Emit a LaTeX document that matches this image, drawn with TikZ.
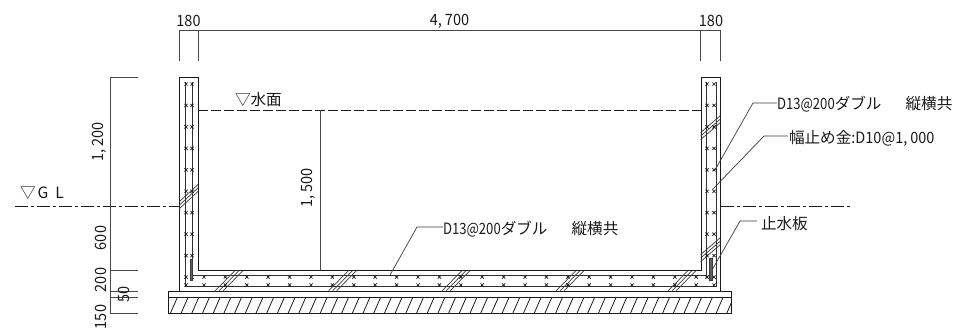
\documentclass[tikz,border=0pt]{standalone}
\usepackage{fontspec}
\setmainfont{Noto Sans CJK JP}
\newfontfamily\hwfont[FakeStretch=0.84]{Noto Sans CJK JP}
\newfontfamily\nmfont[FakeStretch=0.93]{Noto Sans CJK JP}
\newcommand{\hw}[1]{{\hwfont #1}}
\newcommand{\nm}[1]{{\nmfont #1}}
\definecolor{ink}{HTML}{1A1A1A}
\tikzset{
  x=1bp,y=-1bp,
  >=stealth,
  main/.style={draw=ink,line width=0.95bp},
  thin line/.style={draw=ink,line width=0.8bp},
  rebar/.style={draw=ink!90,line width=0.75bp},
  dimline/.style={draw=ink!80,line width=0.75bp},
  leader/.style={draw=ink!85,line width=0.7bp},
  water/.style={draw=ink,line width=0.75bp,dash pattern=on 10bp off 3bp},
  center line/.style={draw=ink,line width=0.75bp,dash pattern=on 13bp off 3bp on 3bp off 3bp},
  label/.style={inner sep=0pt,outer sep=0pt,text=ink,font=\fontsize{15.6bp}{16bp}\selectfont,anchor=west},
  dimtext/.style={inner sep=0pt,outer sep=0pt,text=ink,font=\fontsize{15.6bp}{16bp}\selectfont},
  breakline/.style={draw=ink!85,line width=0.7bp},
  stopbar/.style={fill=ink!70,draw=ink!85,line width=0.4bp},
}
\newcommand{\xmark}[2]{\draw[ink,line width=0.7bp] (#1-1.6,#2-1.6) -- (#1+1.6,#2+1.6) (#1-1.6,#2+1.6) -- (#1+1.6,#2-1.6);}
\begin{document}
\begin{tikzpicture}
\useasboundingbox (0,0) rectangle (955,329);
% rebar
\draw[rebar] (185,82) -- (185,286.5) -- (716,286.5) -- (716,82);
\draw[rebar] (192.5,82) -- (192.5,275) -- (706.5,275) -- (706.5,82);
% concrete
\draw[main] (179,291) -- (179,77) -- (198,77) -- (198,270) -- (701,270) -- (701,77) -- (720.5,77) -- (720.5,291);
\draw[main] (168,291) rectangle (731.5,313);
\draw[main] (168,297) -- (731.5,297);
% hatching
\begin{scope}
\clip (168,297) rectangle (731.5,313);
\foreach \i in {0,...,52} \draw[thin line] ({170.5+\i*10.7},313) -- ({177.5+\i*10.7},297);
\end{scope}
% break lines in the slab
\foreach \c in {229,342.5,456,570,682}{
  \foreach \d in {-4,0,4} \draw[breakline] ({\c+\d-10},291) -- ({\c+\d+10},270.5);
}
% break lines in the walls
\foreach \d in {-3.5,0,3.5}{
  \draw[breakline] (179,205.5+\d) -- (198.5,187.5+\d);
  \draw[breakline] (700.7,136+\d) -- (720.5,119+\d);
  \draw[breakline] (700.7,258+\d) -- (720.5,241+\d);
}
% bar marks
\foreach \i in {0,...,9} {\xmark{186}{84+\i*21.45}\xmark{192}{84+\i*21.45}}
\foreach \i in {0,...,9} {\xmark{707}{84+\i*21.45}\xmark{714}{84+\i*21.45}}
\foreach \i in {0,...,23} {\xmark{204+\i*21.4}{277}\xmark{204+\i*21.4}{285}}
\xmark{186}{285}\xmark{714}{285}\xmark{707}{277}
% water stops
\draw[stopbar] (190,259) rectangle (192.5,280);
\draw[stopbar] (709,258) rectangle (712,280);
% top dimensions
\coordinate (ta) at (179,30); \coordinate (tb) at (198.5,30);
\coordinate (tc) at (700.7,30); \coordinate (td) at (720.5,30);
\draw[dimline] (ta) -- (td);
\foreach \p in {ta,tb,tc,td} \draw[dimline] (\p) -- ++(0,31);
\node[dimtext] (d180a) at (188.5,21) {\nm{180}};
\node[dimtext] (d4700) at (449.5,21) {\nm{4,\kern3bp 700}};
\node[dimtext] (d180b) at (711,21) {\nm{180}};
% left dimensions
\coordinate (la) at (110,77); \coordinate (lf) at (110,313);
\draw[dimline] (la) -- (lf);
\foreach \yy in {77,270,291,297,313} \draw[dimline] (110,\yy) -- (138,\yy);
\node[dimtext,rotate=90] (d1200) at (99.5,142) {\nm{1,\kern3bp 200}};
\node[dimtext,rotate=90] (d600) at (100.5,238) {\nm{600}};
\node[dimtext,rotate=90] (d200) at (100.5,280) {\nm{200}};
\node[dimtext,rotate=90] (d50) at (123.5,294) {\nm{50}};
\node[dimtext,rotate=90] (d150) at (100.5,317) {\nm{150}};
% levels
\draw[center line] (15,206) -- (179,206);
\draw[center line] (720.5,206) -- (852,206);
\draw[water] (198,110) -- (701,110);
\node[label] (gl) at (20,193) {▽\kern2bp G\kern7bp L};
\node[label] (wl) at (235,100) {▽水面};
% water depth
\coordinate (wa) at (320,110); \coordinate (wb) at (320,270);
\draw[dimline] (wa) -- (wb);
\node[dimtext,rotate=90] (d1500) at (308.5,188) {\nm{1,\kern3bp 500}};
% labels and leaders
\node[label] (la1) at (777,104) {\hw{D13@200}ダブル\hspace{24bp}縦横共};
\node[label] (la2) at (789,138) {幅止め金\nm{:D10@1,\kern3bp 000}};
\node[label] (la3) at (761,224) {止水板};
\node[label] (la4) at (443,229) {\hw{D13@200}ダブル\hspace{24bp}縦横共};
\coordinate (s1) at (715,170); \coordinate (b1) at (753,103);
\coordinate (s2) at (712,190); \coordinate (b2) at (764,136);
\coordinate (s3) at (712,270); \coordinate (b3) at (740,221);
\coordinate (s4) at (390,275); \coordinate (b4) at (417,227);
\draw[leader] (s1) -- (b1) -- (777,103);
\draw[leader] (s2) -- (b2) -- (788,136);
\draw[leader] (s3) -- (b3) -- (757,221);
\draw[leader] (s4) -- (b4) -- (443,227);
\end{tikzpicture}
\end{document}
